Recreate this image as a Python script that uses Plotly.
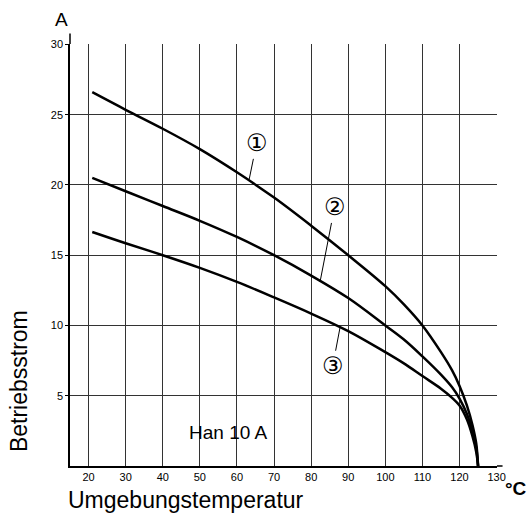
import plotly.graph_objects as go

# Data
temperature = [21, 30, 40, 50, 60, 70, 80, 90, 100, 105, 110, 115, 118, 120, 122, 123.5, 124.5, 125]
current_1 = [26.6, 25.35, 24.0, 22.55, 20.9, 19.1, 17.1, 15.0, 12.8, 11.5, 10.0, 8.1, 6.8, 5.7, 4.3, 2.9, 1.6, 0]
current_2 = [20.5, 19.55, 18.5, 17.45, 16.3, 15.0, 13.55, 11.95, 10.0, 9.0, 7.8, 6.5, 5.6, 4.8, 3.7, 2.5, 1.3, 0]
current_3 = [16.65, 15.85, 15.0, 14.1, 13.1, 12.0, 10.85, 9.6, 8.1, 7.3, 6.4, 5.5, 4.85, 4.3, 3.3, 2.1, 1.0, 0]

x_ticks = [20, 30, 40, 50, 60, 70, 80, 90, 100, 110, 120, 130]
y_ticks = [5, 10, 15, 20, 25, 30]

curve_labels = ["①", "②", "③"]
label_pos = [(65.3, 22.96), (86.3, 18.4), (85.8, 7.1)]
label_target = [(63.3, 20.4), (82.4, 13.1), (87.8, 9.87)]

FONT = "Liberation Sans, Arial, sans-serif"

fig = go.Figure()
for ys in (current_1, current_2, current_3):
    fig.add_trace(go.Scatter(
        x=temperature, y=ys, mode="lines",
        line=dict(color="black", width=2.5, shape="spline", smoothing=1.0),
        showlegend=False, hoverinfo="skip"))

annotations = []
for lab, (ax, ay), (tx, ty) in zip(curve_labels, label_pos, label_target):
    annotations.append(dict(
        x=tx, y=ty, ax=ax, ay=ay, xref="x", yref="y", axref="x", ayref="y",
        text=lab, showarrow=True, arrowhead=0, arrowwidth=1, arrowcolor="black",
        standoff=0, startstandoff=0,
        font=dict(family="DejaVu Sans", size=24, color="black")))

annotations += [
    dict(x=57.5, y=2.35, xref="x", yref="y", text="Han 10 A", showarrow=False,
         xanchor="center", yanchor="middle",
         font=dict(family=FONT, size=19, color="black")),
    dict(x=-0.02, y=1.057, xref="paper", yref="paper", text="A", showarrow=False,
         xanchor="center", yanchor="middle",
         font=dict(family=FONT, size=19, color="black")),
    dict(x=-0.1206, y=0.2, xref="paper", yref="paper", text="Betriebsstrom",
         textangle=-90, showarrow=False, xanchor="center", yanchor="middle",
         font=dict(family=FONT, size=23, color="black")),
    dict(x=0.2717, y=-0.0806, xref="paper", yref="paper", text="Umgebungstemperatur",
         showarrow=False, xanchor="center", yanchor="middle",
         font=dict(family=FONT, size=23, color="black")),
    dict(x=1.0445, y=-0.0545, xref="paper", yref="paper", text="<b>°C</b>",
         showarrow=False, xanchor="center", yanchor="middle",
         font=dict(family=FONT, size=19, color="black")),
]

fig.update_layout(
    width=529, height=514,
    margin=dict(l=70, r=32, t=44, b=48),
    paper_bgcolor="white", plot_bgcolor="white",
    annotations=annotations,
    shapes=[
        dict(type="line", xref="paper", yref="paper", x0=0, x1=0, y0=1, y1=1.025,
             line=dict(color="black", width=1.5)),
        dict(type="line", xref="paper", yref="paper", x0=1, x1=1.013, y0=0, y1=0,
             line=dict(color="black", width=1.5)),
    ],
)
fig.update_xaxes(
    range=[15, 130.1], tickvals=x_ticks, ticktext=[str(v) for v in x_ticks],
    showgrid=True, gridcolor="#333", gridwidth=1,
    showline=True, linecolor="black", linewidth=1.5,
    ticks="", zeroline=False,
    tickfont=dict(family=FONT, size=11, color="black"))
fig.update_yaxes(
    range=[0, 30.03], tickvals=y_ticks, ticktext=[str(v) for v in y_ticks],
    showgrid=True, gridcolor="#333", gridwidth=1,
    showline=True, linecolor="black", linewidth=1.5,
    ticks="outside", ticklen=3, tickcolor="black", zeroline=False,
    tickfont=dict(family=FONT, size=11, color="black"))

fig.write_html("out.html", config={"displayModeBar": False},
               post_script="document.body.style.margin='0px';")
